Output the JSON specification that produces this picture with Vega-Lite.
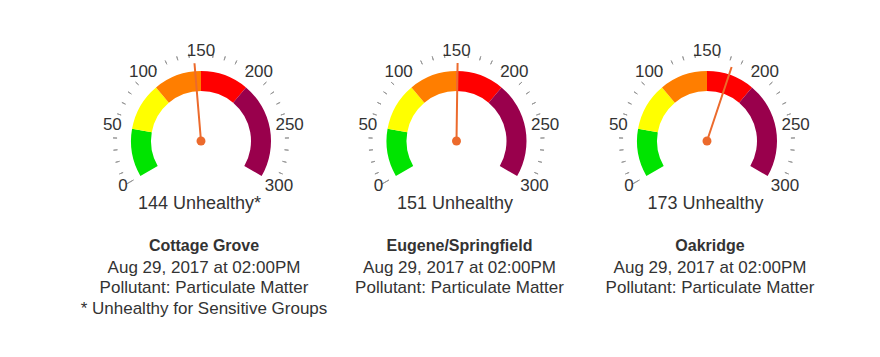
{
  "$schema": "https://vega.github.io/schema/vega-lite/v6.json",
  "background": "white",
  "padding": {"left": 60, "top": 0, "right": 0, "bottom": 0},
  "spacing": 0,
  "bounds": "flush",
  "config": {"view": {"stroke": null}, "font": "Liberation Sans"},
  "datasets": {
    "readings": [
      {"station": "Cottage Grove", "aqi": 144, "reading": "144 Unhealthy*", "time": "Aug 29, 2017 at 02:00PM", "pollutant": "Pollutant: Particulate Matter", "note": "* Unhealthy for Sensitive Groups"},
      {"station": "Eugene/Springfield", "aqi": 151, "reading": "151 Unhealthy", "time": "Aug 29, 2017 at 02:00PM", "pollutant": "Pollutant: Particulate Matter", "note": ""},
      {"station": "Oakridge", "aqi": 173, "reading": "173 Unhealthy", "time": "Aug 29, 2017 at 02:00PM", "pollutant": "Pollutant: Particulate Matter", "note": ""}
    ],
    "bands": [
      {"level": "Good", "from": 0, "to": 50},
      {"level": "Moderate", "from": 50, "to": 100},
      {"level": "Unhealthy for Sensitive Groups", "from": 100, "to": 150},
      {"level": "Unhealthy", "from": 150, "to": 200},
      {"level": "Very Unhealthy", "from": 200, "to": 300}
    ],
    "minorTicks": [
      {"v": 10}, {"v": 20}, {"v": 30}, {"v": 40},
      {"v": 60}, {"v": 70}, {"v": 80}, {"v": 90},
      {"v": 110}, {"v": 120}, {"v": 130}, {"v": 140},
      {"v": 160}, {"v": 170}, {"v": 180}, {"v": 190},
      {"v": 210}, {"v": 220}, {"v": 230}, {"v": 240},
      {"v": 260}, {"v": 270}, {"v": 280}, {"v": 290}
    ],
    "startTick": [{"v": 0}],
    "labels": [{"v": 0}, {"v": 50}, {"v": 100}, {"v": 150}, {"v": 200}, {"v": 250}, {"v": 300}]
  },
  "hconcat": [
    {
      "width": 282, "height": 282,
      "layer": [
        {"data": {"name": "bands"}, "mark": {"type": "arc", "radius": 70, "radius2": 50},
         "encoding": {"theta": {"field": "from", "type": "quantitative", "stack": null, "scale": {"domain": [0, 300], "range": [-2.0944, 2.0944], "nice": false}}, "theta2": {"field": "to"},
           "color": {"field": "level", "type": "nominal", "legend": null, "scale": {"domain": ["Good", "Moderate", "Unhealthy for Sensitive Groups", "Unhealthy", "Very Unhealthy"], "range": ["#00e400", "#ffff00", "#ff7e00", "#ff0000", "#99004c"]}}}},
        {"data": {"name": "minorTicks"}, "mark": {"type": "arc", "radius": 88, "radius2": 84, "stroke": "#999999", "strokeWidth": 1, "fill": "transparent"},
         "encoding": {"theta": {"field": "v", "type": "quantitative", "stack": null}, "theta2": {"field": "v"}}},
        {"data": {"name": "startTick"}, "mark": {"type": "arc", "radius": 86, "radius2": 78, "stroke": "#999999", "strokeWidth": 1, "fill": "transparent"},
         "encoding": {"theta": {"field": "v", "type": "quantitative", "stack": null}, "theta2": {"field": "v"}}},
        {"data": {"name": "labels"}, "mark": {"type": "text", "radius": 90, "fontSize": 17, "align": "center", "baseline": "middle", "color": "#333333"},
         "encoding": {"theta": {"field": "v", "type": "quantitative", "stack": null}, "text": {"field": "v", "type": "quantitative", "format": "d"}}},
        {"data": {"name": "readings"}, "transform": [{"filter": "datum.station === 'Cottage Grove'"}],
         "layer": [
           {"mark": {"type": "arc", "radius": 78, "radius2": 0, "stroke": "#ec6a2c", "strokeWidth": 2, "fill": "#ec6a2c"},
            "encoding": {"theta": {"field": "aqi", "type": "quantitative", "stack": null}, "theta2": {"field": "aqi"}}},
           {"mark": {"type": "point", "filled": true, "size": 80, "color": "#ec6a2c", "opacity": 1}, "encoding": {}},
           {"mark": {"type": "text", "fontSize": 18, "dy": 62.5, "dx": -1.5, "baseline": "middle", "color": "#333333"}, "encoding": {"text": {"field": "reading"}}},
           {"mark": {"type": "text", "fontSize": 16, "fontWeight": "bold", "dy": 105, "dx": 3, "baseline": "middle", "color": "#333333"}, "encoding": {"text": {"field": "station"}}},
           {"mark": {"type": "text", "fontSize": 17, "dy": 126.5, "dx": 3, "baseline": "middle", "color": "#333333"}, "encoding": {"text": {"field": "time"}}},
           {"mark": {"type": "text", "fontSize": 17, "dy": 146.5, "dx": 3, "baseline": "middle", "color": "#333333"}, "encoding": {"text": {"field": "pollutant"}}},
           {"mark": {"type": "text", "fontSize": 17, "dy": 167.5, "dx": 3, "baseline": "middle", "color": "#333333"}, "encoding": {"text": {"field": "note"}}}
         ]}
      ]
    },
    {
      "width": 229, "height": 282,
      "layer": [
        {"data": {"name": "bands"}, "mark": {"type": "arc", "radius": 70, "radius2": 50},
         "encoding": {"theta": {"field": "from", "type": "quantitative", "stack": null, "scale": {"domain": [0, 300], "range": [-2.0944, 2.0944], "nice": false}}, "theta2": {"field": "to"},
           "color": {"field": "level", "type": "nominal", "legend": null, "scale": {"domain": ["Good", "Moderate", "Unhealthy for Sensitive Groups", "Unhealthy", "Very Unhealthy"], "range": ["#00e400", "#ffff00", "#ff7e00", "#ff0000", "#99004c"]}}}},
        {"data": {"name": "minorTicks"}, "mark": {"type": "arc", "radius": 88, "radius2": 84, "stroke": "#999999", "strokeWidth": 1, "fill": "transparent"},
         "encoding": {"theta": {"field": "v", "type": "quantitative", "stack": null}, "theta2": {"field": "v"}}},
        {"data": {"name": "startTick"}, "mark": {"type": "arc", "radius": 86, "radius2": 78, "stroke": "#999999", "strokeWidth": 1, "fill": "transparent"},
         "encoding": {"theta": {"field": "v", "type": "quantitative", "stack": null}, "theta2": {"field": "v"}}},
        {"data": {"name": "labels"}, "mark": {"type": "text", "radius": 90, "fontSize": 17, "align": "center", "baseline": "middle", "color": "#333333"},
         "encoding": {"theta": {"field": "v", "type": "quantitative", "stack": null}, "text": {"field": "v", "type": "quantitative", "format": "d"}}},
        {"data": {"name": "readings"}, "transform": [{"filter": "datum.station === 'Eugene/Springfield'"}],
         "layer": [
           {"mark": {"type": "arc", "radius": 78, "radius2": 0, "stroke": "#ec6a2c", "strokeWidth": 2, "fill": "#ec6a2c"},
            "encoding": {"theta": {"field": "aqi", "type": "quantitative", "stack": null}, "theta2": {"field": "aqi"}}},
           {"mark": {"type": "point", "filled": true, "size": 80, "color": "#ec6a2c", "opacity": 1}, "encoding": {}},
           {"mark": {"type": "text", "fontSize": 18, "dy": 62.5, "dx": -1.5, "baseline": "middle", "color": "#333333"}, "encoding": {"text": {"field": "reading"}}},
           {"mark": {"type": "text", "fontSize": 16, "fontWeight": "bold", "dy": 105, "dx": 3, "baseline": "middle", "color": "#333333"}, "encoding": {"text": {"field": "station"}}},
           {"mark": {"type": "text", "fontSize": 17, "dy": 126.5, "dx": 3, "baseline": "middle", "color": "#333333"}, "encoding": {"text": {"field": "time"}}},
           {"mark": {"type": "text", "fontSize": 17, "dy": 146.5, "dx": 3, "baseline": "middle", "color": "#333333"}, "encoding": {"text": {"field": "pollutant"}}},
           {"mark": {"type": "text", "fontSize": 17, "dy": 167.5, "dx": 3, "baseline": "middle", "color": "#333333"}, "encoding": {"text": {"field": "note"}}}
         ]}
      ]
    },
    {
      "width": 272, "height": 282,
      "layer": [
        {"data": {"name": "bands"}, "mark": {"type": "arc", "radius": 70, "radius2": 50},
         "encoding": {"theta": {"field": "from", "type": "quantitative", "stack": null, "scale": {"domain": [0, 300], "range": [-2.0944, 2.0944], "nice": false}}, "theta2": {"field": "to"},
           "color": {"field": "level", "type": "nominal", "legend": null, "scale": {"domain": ["Good", "Moderate", "Unhealthy for Sensitive Groups", "Unhealthy", "Very Unhealthy"], "range": ["#00e400", "#ffff00", "#ff7e00", "#ff0000", "#99004c"]}}}},
        {"data": {"name": "minorTicks"}, "mark": {"type": "arc", "radius": 88, "radius2": 84, "stroke": "#999999", "strokeWidth": 1, "fill": "transparent"},
         "encoding": {"theta": {"field": "v", "type": "quantitative", "stack": null}, "theta2": {"field": "v"}}},
        {"data": {"name": "startTick"}, "mark": {"type": "arc", "radius": 86, "radius2": 78, "stroke": "#999999", "strokeWidth": 1, "fill": "transparent"},
         "encoding": {"theta": {"field": "v", "type": "quantitative", "stack": null}, "theta2": {"field": "v"}}},
        {"data": {"name": "labels"}, "mark": {"type": "text", "radius": 90, "fontSize": 17, "align": "center", "baseline": "middle", "color": "#333333"},
         "encoding": {"theta": {"field": "v", "type": "quantitative", "stack": null}, "text": {"field": "v", "type": "quantitative", "format": "d"}}},
        {"data": {"name": "readings"}, "transform": [{"filter": "datum.station === 'Oakridge'"}],
         "layer": [
           {"mark": {"type": "arc", "radius": 78, "radius2": 0, "stroke": "#ec6a2c", "strokeWidth": 2, "fill": "#ec6a2c"},
            "encoding": {"theta": {"field": "aqi", "type": "quantitative", "stack": null}, "theta2": {"field": "aqi"}}},
           {"mark": {"type": "point", "filled": true, "size": 80, "color": "#ec6a2c", "opacity": 1}, "encoding": {}},
           {"mark": {"type": "text", "fontSize": 18, "dy": 62.5, "dx": -1.5, "baseline": "middle", "color": "#333333"}, "encoding": {"text": {"field": "reading"}}},
           {"mark": {"type": "text", "fontSize": 16, "fontWeight": "bold", "dy": 105, "dx": 3, "baseline": "middle", "color": "#333333"}, "encoding": {"text": {"field": "station"}}},
           {"mark": {"type": "text", "fontSize": 17, "dy": 126.5, "dx": 3, "baseline": "middle", "color": "#333333"}, "encoding": {"text": {"field": "time"}}},
           {"mark": {"type": "text", "fontSize": 17, "dy": 146.5, "dx": 3, "baseline": "middle", "color": "#333333"}, "encoding": {"text": {"field": "pollutant"}}},
           {"mark": {"type": "text", "fontSize": 17, "dy": 167.5, "dx": 3, "baseline": "middle", "color": "#333333"}, "encoding": {"text": {"field": "note"}}}
         ]}
      ]
    }
  ]
}
